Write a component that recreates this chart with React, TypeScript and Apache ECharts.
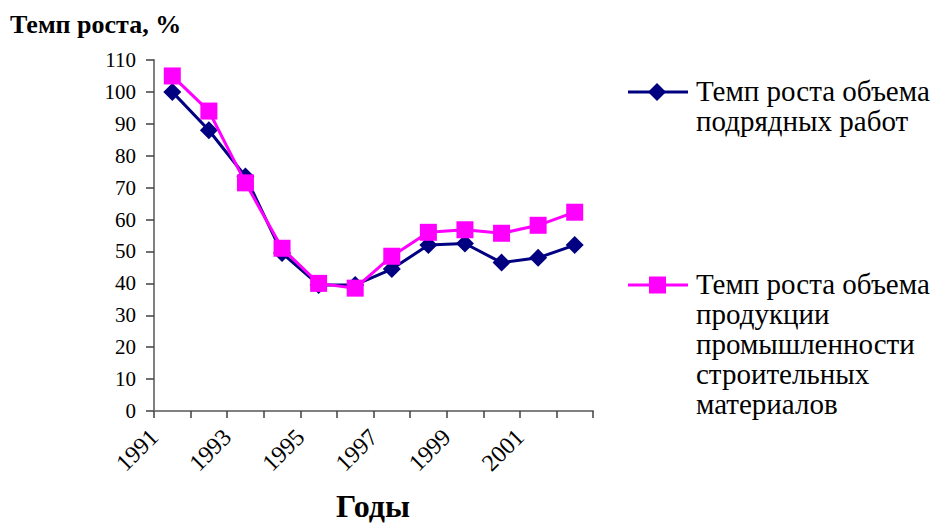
import React, { useEffect, useRef } from "react";
import * as echarts from "echarts";

// Years on the category axis (one point per year)
const years = ["1991", "1992", "1993", "1994", "1995", "1996", "1997", "1998", "1999", "2000", "2001", "2002"];
// Labels printed at the tick marks between categories
const boundaryLabels = ["1991", "", "1993", "", "1995", "", "1997", "", "1999", "", "2001", "", ""];
// Growth rate of contract work, %
const contractWork = [100, 88, 73.5, 49.5, 39.5, 39.5, 44.5, 52, 52.5, 46.5, 48, 52];
// Growth rate of building materials output, %
const buildingMaterials = [105, 94, 71.5, 51, 40, 38.5, 48.5, 56, 56.8, 55.7, 58.2, 62.3];

const seriesNames = ["Темп роста объема подрядных работ", "Темп роста объема продукции промышленности строительных материалов"];
const legendLines = [
  ["Темп роста объема", "подрядных работ"],
  ["Темп роста объема", "продукции", "промышленности", "строительных", "материалов"],
];
const yTitle = "Темп роста, %";
const xTitle = "Годы";

const NAVY = "#000080";
const MAGENTA = "#FF00FF";
const AXIS = "#808080";
const SERIF = "Liberation Serif";

export default function App() {
  const ref = useRef<HTMLDivElement>(null);

  useEffect(() => {
    if (!ref.current) return;
    const chart = echarts.init(ref.current, null, { renderer: "svg" });

    const legendX = 628;
    const legendY = [92, 285];

    chart.setOption({
      animation: false,
      backgroundColor: "#ffffff",
      textStyle: { fontFamily: SERIF },
      grid: { left: 154, right: 344, top: 60, bottom: 112 },
      xAxis: [
        {
          type: "category",
          data: years,
          boundaryGap: true,
          position: "bottom",
          axisLine: { lineStyle: { color: AXIS, width: 2 } },
          axisTick: { show: true, interval: 0, length: 7, lineStyle: { color: "#404040", width: 1.5 } },
          axisLabel: { show: false },
          splitLine: { show: false },
        },
        {
          type: "category",
          data: boundaryLabels,
          boundaryGap: false,
          position: "bottom",
          offset: 0,
          axisLine: { show: false },
          axisTick: { show: false },
          splitLine: { show: false },
          axisLabel: {
            interval: 0,
            rotate: 45,
            margin: 22,
            color: "#000",
            fontFamily: SERIF,
            fontSize: 24,
          },
        },
      ],
      yAxis: {
        type: "value",
        min: 0,
        max: 110,
        interval: 10,
        axisLine: { show: true, lineStyle: { color: AXIS, width: 2 } },
        axisTick: { show: true, length: 8, lineStyle: { color: "#404040", width: 1.5 } },
        splitLine: { show: false },
        axisLabel: { color: "#000", fontFamily: SERIF, fontSize: 21, margin: 18 },
      },
      series: [
        {
          name: seriesNames[0],
          type: "line",
          xAxisIndex: 0,
          data: contractWork,
          symbol: "diamond",
          symbolSize: 18,
          lineStyle: { color: NAVY, width: 3 },
          itemStyle: { color: NAVY },
          z: 2,
        },
        {
          name: seriesNames[1],
          type: "line",
          xAxisIndex: 0,
          data: buildingMaterials,
          symbol: "rect",
          symbolSize: 17,
          lineStyle: { color: MAGENTA, width: 3 },
          itemStyle: { color: MAGENTA },
          z: 3,
        },
      ],
      graphic: [
        {
          type: "text",
          left: 10,
          top: 11,
          style: { text: yTitle, fontFamily: SERIF, fontSize: 26, fontWeight: "bold", fill: "#000" },
        },
        {
          type: "text",
          x: 373,
          y: 506,
          style: {
            text: xTitle,
            fontFamily: SERIF,
            fontSize: 32,
            fontWeight: "bold",
            fill: "#000",
            align: "center",
            verticalAlign: "middle",
          },
        },
        // legend entry 1
        {
          type: "line",
          shape: { x1: legendX, y1: legendY[0], x2: legendX + 60, y2: legendY[0] },
          style: { stroke: NAVY, lineWidth: 3 },
        },
        {
          type: "polygon",
          shape: {
            points: [
              [legendX + 29, legendY[0] - 9],
              [legendX + 38, legendY[0]],
              [legendX + 29, legendY[0] + 9],
              [legendX + 20, legendY[0]],
            ],
          },
          style: { fill: NAVY },
        },
        {
          type: "text",
          x: 696,
          y: legendY[0] - 16,
          style: {
            text: legendLines[0].join("\n"),
            fontFamily: SERIF,
            fontSize: 29,
            lineHeight: 30,
            fill: "#000",
            verticalAlign: "top",
          },
        },
        // legend entry 2
        {
          type: "line",
          shape: { x1: legendX, y1: legendY[1], x2: legendX + 60, y2: legendY[1] },
          style: { stroke: MAGENTA, lineWidth: 3 },
        },
        {
          type: "rect",
          shape: { x: legendX + 21, y: legendY[1] - 8.5, width: 17, height: 17 },
          style: { fill: MAGENTA },
        },
        {
          type: "text",
          x: 696,
          y: legendY[1] - 16,
          style: {
            text: legendLines[1].join("\n"),
            fontFamily: SERIF,
            fontSize: 29,
            lineHeight: 30,
            fill: "#000",
            verticalAlign: "top",
          },
        },
      ],
    });

    return () => chart.dispose();
  }, []);

  return (
    <div
      ref={ref}
      style={{ position: "fixed", left: 0, top: 0, width: 937, height: 523, background: "#fff" }}
    />
  );
}
